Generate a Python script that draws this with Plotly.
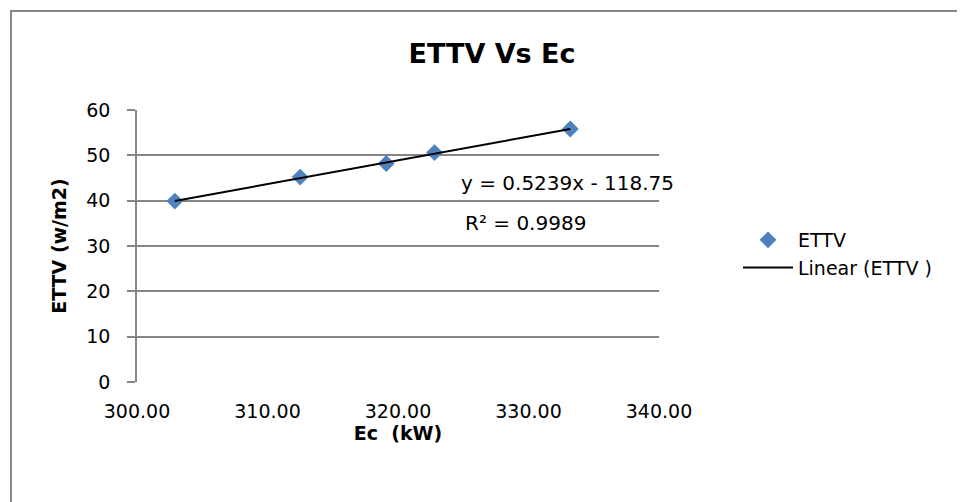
import numpy as np
import plotly.graph_objects as go

# ---- data ----
ec_kw = [302.9, 312.5, 319.1, 322.8, 333.2]
ettv = [39.9, 45.2, 48.2, 50.6, 55.8]
series_name = "ETTV"
trend_name = "Linear (ETTV )"
slope = 0.5239
intercept = -118.75
r_squared = 0.9989
x_ticks = [300, 310, 320, 330, 340]
y_ticks = [0, 10, 20, 30, 40, 50, 60]

# page is 965x502; the browser body has an 8px margin
OFF = 8
W, H = 965 - OFF, 502 - OFF
# plot area in page pixels
PX0, PX1, PY0, PY1 = 137, 659, 110, 382
L, R = PX0 - OFF, W - (PX1 - OFF)
T, B = PY0 - OFF, H - (PY1 - OFF)
PW, PH = PX1 - PX0, PY1 - PY0

def px(xp):
    return (xp - PX0) / PW

def py(yp):
    return (PY1 - yp) / PH

FONT = "DejaVu Sans"
GRID = "#868686"

trend_x = [min(ec_kw), max(ec_kw)]
trend_y = [slope * v + intercept for v in trend_x]

fig = go.Figure()
fig.add_trace(go.Scatter(
    x=ec_kw, y=ettv, mode="markers", name=series_name,
    marker=dict(symbol="diamond", size=13, color="#4F81BD"),
))
fig.add_trace(go.Scatter(
    x=trend_x, y=trend_y, mode="lines", name=trend_name,
    line=dict(color="black", width=2),
))

fig.update_layout(
    width=W, height=H, autosize=False,
    margin=dict(l=L, r=R, t=T, b=B, pad=0),
    paper_bgcolor="white", plot_bgcolor="white",
    font=dict(family=FONT, size=19, color="black"),
    title=dict(text="<b>ETTV Vs Ec</b>", x=(492 - OFF) / W, xref="container", xanchor="center",
               y=1 - (54 - OFF) / H, yref="container", yanchor="middle",
               font=dict(family=FONT, size=27, color="black")),
    xaxis=dict(range=[300, 340], tickvals=x_ticks, ticktext=[f"{v:.2f}" for v in x_ticks],
               showgrid=False, zeroline=False, showline=False, ticks="",
               ticklabelstandoff=16,
               tickfont=dict(size=19),
               title=dict(text="<b>Ec  (kW)</b>", font=dict(size=19), standoff=2)),
    yaxis=dict(range=[0, 60], tickvals=y_ticks, showgrid=True, gridcolor=GRID, gridwidth=1.5,
               zeroline=False, showline=True, linecolor=GRID, linewidth=1.5,
               ticks="outside", ticklen=8, tickcolor=GRID, tickwidth=1.5,
               ticklabelstandoff=13,
               tickfont=dict(size=19),
               title=dict(text="<b>ETTV (w/m2)</b>", font=dict(size=19), standoff=15)),
    legend=dict(x=px(738), y=py(254), xanchor="left", yanchor="middle",
                font=dict(size=19), itemwidth=50, tracegroupgap=0,
                bgcolor="rgba(0,0,0,0)"),
    showlegend=True,
)

fig.add_annotation(text=f"y = {slope}x - {abs(intercept)}", xref="paper", yref="paper",
                   x=px(567), y=py(183), xanchor="center", yanchor="middle",
                   showarrow=False, font=dict(size=20))
fig.add_annotation(text=f"R² = {r_squared}", xref="paper", yref="paper",
                   x=px(525), y=py(223), xanchor="center", yanchor="middle",
                   showarrow=False, font=dict(size=20))

# chart-area border (extends past the image right and bottom)
fig.add_shape(type="rect", xref="paper", yref="paper",
              x0=px(11), y0=py(530), x1=px(1000), y1=py(11),
              line=dict(color=GRID, width=2), layer="below")

fig.write_html("out.html")
